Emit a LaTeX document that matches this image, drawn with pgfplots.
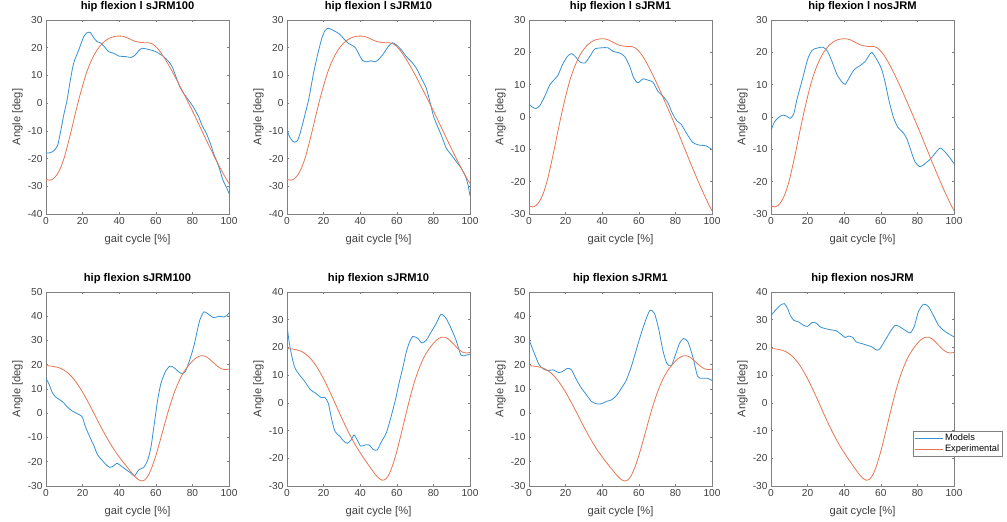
\documentclass[border=0pt]{standalone}
\usepackage{fontspec}
\setmainfont{Liberation Sans}
\usepackage{pgfplots}
\pgfplotsset{compat=1.18}
\definecolor{mblue}{RGB}{55,145,210}
\definecolor{morange}{RGB}{230,118,82}
\definecolor{axgray}{gray}{0.5}
\definecolor{txtgray}{gray}{0.25}
\pgfplotsset{
 mat/.style={
  scale only axis, width=183bp, height=194bp,
  xmin=0,xmax=100, xtick={0,20,...,100},
  axis line style={axgray, line width=0.5bp},
  every tick/.style={axgray, line width=0.5bp},
  tick align=inside, major tick length=2.2bp,
  xtick pos=both, ytick pos=both, xticklabel pos=bottom, yticklabel pos=left,
  /pgf/number format/assume math mode=true,
  tick label style={font=\fontsize{10.2}{12}\selectfont, text=txtgray},
  xlabel={gait cycle [\%]}, ylabel={Angle [deg]},
  label style={font=\fontsize{11.2}{13}\selectfont, text=txtgray},
  xlabel style={at={(axis description cs:0.5,0)}, anchor=center, yshift=-26bp},
  ylabel style={at={(axis description cs:0,0.5)}, anchor=center, yshift=28.5bp},
  title style={font=\bfseries\fontsize{11.2}{13}\selectfont, at={(axis description cs:0.5,1)}, anchor=base, yshift=5bp},
  every axis plot/.append style={line width=0.8bp, smooth, tension=0.4},
 },
 mod/.style={mblue},
 exp/.style={morange},
}
\pgfplotstableread{
x y
0 -27.5
2 -27.8
4 -27.3
6 -25.8
8 -23.3
10 -19.6
12 -14.7
14 -9.4
16 -3.8
18 1.5
20 6.3
22 10.7
24 14.2
26 17
28 19.3
30 21
32 22.3
34 23.2
36 23.8
38 24.1
40 24.2
42 24.1
44 23.7
46 23.1
48 22.5
50 22.1
52 21.9
54 21.8
56 21.8
58 21.4
60 20.4
62 18.9
64 17
66 14.9
68 12.6
70 10.2
72 7.7
74 5.1
76 2.5
78 -0.1
80 -2.8
82 -5.5
84 -8.3
86 -11.1
88 -13.9
90 -16.6
92 -19.3
94 -21.9
96 -24.4
98 -26.8
100 -29
}\exptop
\pgfplotstableread{
x y
0 19.6
2 19.5
4 19.3
6 19
8 18.5
10 17.7
12 16.6
14 15.1
16 13.3
18 11.1
20 8.7
22 6
24 3.2
26 0.3
28 -2.7
30 -5.6
32 -8.4
34 -11.1
36 -13.6
38 -15.9
40 -18
42 -20
44 -21.9
46 -23.8
48 -25.6
50 -27.1
52 -27.9
54 -27.5
56 -25.5
58 -22
60 -17.5
62 -12.3
64 -6.8
66 -1.3
68 3.8
70 8.3
72 12.1
74 15.3
76 17.8
78 19.8
80 21.5
82 22.8
84 23.6
86 23.7
88 23.1
90 21.9
92 20.5
94 19.2
96 18.3
98 18
100 18.2
}\expbot
\begin{document}
\begin{tikzpicture}
\path[use as bounding box] (0,0) rectangle (1007bp,522bp);
% ---------- top row ----------
\begin{axis}[mat, at={(46bp,308bp)}, anchor=south west, ymin=-40, ymax=30, ytick={-40,-30,...,30}, title={hip flexion l sJRM100}]
\addplot[mod] coordinates {(0,-18) (2.4,-17.9) (4.7,-16.9) (6.4,-15.1) (7.8,-10.9) (9.7,-4.3) (11.5,1.1) (13.3,8.3) (15.1,14.4) (17.9,19.2) (20.6,24) (22.4,25.4) (24.2,25.5) (26,23.7) (27.9,22.2) (29.7,21.8) (31.9,20.4) (34.2,18.6) (37,18) (39.7,17) (43.4,16.8) (46.6,16.5) (48.8,17.4) (50.6,18.9) (52.5,19.8) (55.2,19.5) (58.8,18.9) (61.6,18) (64.3,16.8) (67,15) (68.9,13.2) (70.7,10.1) (72.9,6.2) (75.2,3.5) (77.9,1.1) (80.6,-1.5) (83.4,-4.9) (85.2,-7.9) (87.6,-10.9) (89.8,-14.5) (91.6,-18.1) (94.4,-22.9) (96.7,-27.8) (98.9,-30.8) (100,-32.6)};
\addplot[exp] table {\exptop};
\end{axis}
\begin{axis}[mat, at={(287bp,308bp)}, anchor=south west, ymin=-40, ymax=30, ytick={-40,-30,...,30}, title={hip flexion l sJRM10}]
\addplot[mod] coordinates {(0,-9.6) (1.3,-12) (2.7,-13.4) (4.2,-14.1) (5.8,-13.4) (7.2,-10.8) (9.1,-6) (11.8,1.2) (14.5,10.8) (16.7,17.4) (19,23.4) (20.8,26.2) (22.6,27) (25.4,26.2) (28.6,25) (30.8,23.4) (33.5,21.6) (37.1,20.2) (39.5,17.4) (41.3,15.4) (43.5,14.9) (45.7,15.3) (48,14.9) (49.8,15.6) (52.2,17.4) (55.3,20.4) (57.6,21.8) (59.8,21) (62.5,19.2) (65.2,16.8) (67.9,15) (70.7,12.6) (73.4,9) (76.1,5.4) (78.3,0) (80.1,-4.8) (81.9,-7.8) (84.2,-11.4) (87,-16.2) (89.7,-18.6) (92.4,-21) (95.1,-23.4) (97.5,-26.4) (98.9,-29.4) (100,-33.5)};
\addplot[exp] table {\exptop};
\end{axis}
\begin{axis}[mat, at={(529bp,308bp)}, anchor=south west, ymin=-30, ymax=30, ytick={-30,-20,...,30}, title={hip flexion l sJRM1}]
\addplot[mod] coordinates {(0,3.9) (1.5,3.2) (3.8,2.6) (6,3.6) (8.7,6.5) (11.4,10) (14.2,11.8) (16,13.1) (18.3,16.2) (20.9,18.7) (23.2,19.6) (25.6,18.5) (27.8,17) (30.5,16.7) (33.2,18.7) (35.9,21) (39.6,21.4) (43.2,21.4) (45.9,20.3) (49.5,19.8) (52.3,18.7) (55,15.7) (57.2,12.1) (59.5,10.6) (62.3,11.8) (65,11.4) (67.7,10.8) (70.4,8) (73.1,6.5) (75.9,4.4) (78.2,1.3) (80.8,-1.2) (83.1,-2.2) (85.8,-4.8) (89.5,-7.9) (93.1,-8.7) (96.7,-8.9) (100,-10.1)};
\addplot[exp] table {\exptop};
\end{axis}
\begin{axis}[mat, at={(771bp,308bp)}, anchor=south west, ymin=-30, ymax=30, ytick={-30,-20,...,30}, title={hip flexion l nosJRM}]
\addplot[mod] coordinates {(0,-4.2) (1.8,-1.6) (4.2,-0.1) (6.5,0.6) (8.7,0.2) (10.5,-0.4) (12.4,0.9) (14.2,5.5) (16.9,11.1) (20,17.8) (22.4,20.6) (25.1,21.3) (28.4,21.6) (30.9,20.3) (33.3,17.2) (36,13.2) (38.4,11.1) (40.5,10.1) (42.7,12.1) (45.5,14.7) (48.7,15.9) (51.5,17.2) (53.3,18.8) (55.1,20) (57.8,17.8) (60.5,14.7) (62.4,10.6) (64.7,4.5) (66.9,-0.1) (69.3,-3.2) (72,-4.7) (74.2,-6.7) (76.4,-10.3) (78.7,-13.9) (81.5,-15.4) (84.2,-14.4) (86.9,-13.1) (89.6,-11.3) (92.4,-9.6) (95.1,-10.8) (97.8,-12.7) (100,-14.4)};
\addplot[exp] table {\exptop};
\end{axis}
% ---------- bottom row ----------
\begin{axis}[mat, at={(46bp,36bp)}, anchor=south west, ymin=-30, ymax=50, ytick={-30,-20,...,50}, title={hip flexion sJRM100}]
\addplot[mod] coordinates {(0,14.3) (1.5,12.3) (3.3,8.8) (5.1,6.8) (7.8,5.4) (9.7,4.3) (11.5,2.7) (14.2,1) (16.9,-0.1) (19.7,-1.4) (21.5,-5.5) (23.9,-9.7) (26.4,-13.8) (28.2,-17.2) (30.6,-19.3) (32.4,-20.9) (34.8,-22.3) (37,-21.7) (38.8,-20.6) (41,-21.7) (43.4,-23.1) (46.1,-24.5) (48.3,-25.9) (50.6,-23.4) (53.4,-22.3) (55.6,-19.3) (57.4,-13.8) (59.2,-4.2) (61,5.4) (62.8,12.3) (65.2,17.1) (67.6,19.4) (69.8,18.9) (72.5,17.1) (74.3,16.4) (76.1,17.1) (78.5,21.9) (80.7,27.4) (82.5,33.5) (84,38.3) (86.2,41.8) (88.3,41.1) (91.6,39.4) (94.4,40) (97.1,39.7) (98.9,40.4) (100,41.4)};
\addplot[exp] table {\expbot};
\end{axis}
\begin{axis}[mat, at={(287bp,36bp)}, anchor=south west, ymin=-30, ymax=40, ytick={-30,-20,...,40}, title={hip flexion sJRM10}]
\addplot[mod] coordinates {(0,28) (1.3,21.4) (3.1,15.4) (4.5,12.4) (6.9,10) (9.4,8) (12.7,4.8) (15.4,3.6) (18.7,1.9) (20.8,1.9) (22.6,-0.2) (24.5,-6.2) (26.3,-10.4) (29,-12.2) (30.8,-13.7) (33,-14.6) (35,-13.4) (36.6,-11.6) (38.4,-13.4) (40.2,-15.6) (42.6,-15.2) (44.9,-15.2) (47.1,-16.8) (49.3,-17) (51.6,-14) (54.3,-10.8) (57.1,-4.4) (59.2,1) (61.2,7) (63.4,13) (65.2,18.4) (67,22) (68.8,24) (71.6,23.2) (73.7,21.6) (76.1,22.6) (78.8,25.6) (81.5,28.6) (84.2,32) (87,30.4) (89.7,26.8) (92.4,22.6) (95.1,17.2) (97.8,17.2) (100,17.6)};
\addplot[exp] table {\expbot};
\end{axis}
\begin{axis}[mat, at={(529bp,36bp)}, anchor=south west, ymin=-30, ymax=50, ytick={-30,-20,...,50}, title={hip flexion sJRM1}]
\addplot[mod] coordinates {(0,30.4) (1.5,27.4) (3.3,24) (5.6,19.9) (8.2,18.1) (10.5,17.6) (13.2,17.9) (16,16.8) (18.3,17.2) (20.9,18.5) (23.2,17.9) (26,13.7) (28.7,10.3) (31.4,7.6) (34.1,4.9) (36.8,3.9) (39.6,3.9) (42.3,4.9) (45,5.5) (47.7,7.2) (50.5,10.3) (53.2,13.7) (55.9,19.2) (58.6,26.1) (61.3,32.9) (64.1,39.1) (66.2,42.5) (68.6,41.1) (71,34.3) (73.1,26.1) (75.3,20.6) (77.7,19.5) (80,24) (82.2,28.8) (84.4,30.8) (86.8,29.5) (89.5,23.3) (92.2,15.1) (94.9,14.4) (97.6,14.4) (100,13.5)};
\addplot[exp] table {\expbot};
\end{axis}
\begin{axis}[mat, at={(771bp,36bp)}, anchor=south west, ymin=-30, ymax=40, ytick={-30,-20,...,40}, title={hip flexion nosJRM},
 legend style={at={(0.776,0.2835)}, anchor=north west, font=\fontsize{9.3}{11}\selectfont, draw=axgray, line width=0.5bp, inner xsep=1bp, inner ysep=1bp, row sep=-1.5bp, cells={anchor=west}},
 legend image code/.code={\draw[#1, line width=0.8bp] (0bp,0bp) -- (28bp,0bp);}]
\addplot[mod] coordinates {(0,31.6) (2.4,33.4) (5.1,35.2) (7.3,35.8) (9.1,34) (10.5,31.6) (12.4,29.8) (15.1,29.2) (17.8,28) (20,27.6) (22.4,29) (24.7,28.8) (26.9,27.4) (29.6,26.8) (32.4,26.4) (35.6,26) (38.2,24.8) (40.5,23.6) (42.4,24.1) (44.7,23.6) (46.5,22) (49.6,21.4) (52.4,20.8) (55.1,20.2) (57.8,19) (59.6,19.6) (62.4,22.6) (65.1,25.6) (67.8,28) (70.5,27.4) (73.3,26.2) (76,25.2) (78.2,27.4) (80.5,32.8) (83.3,35.6) (86,34.8) (88.7,31.6) (91.5,28) (94.2,26.2) (96.9,25) (100,23.8)};
\addlegendentry{Models}
\addplot[exp] table {\expbot};
\addlegendentry{Experimental}
\end{axis}
\end{tikzpicture}
\end{document}
